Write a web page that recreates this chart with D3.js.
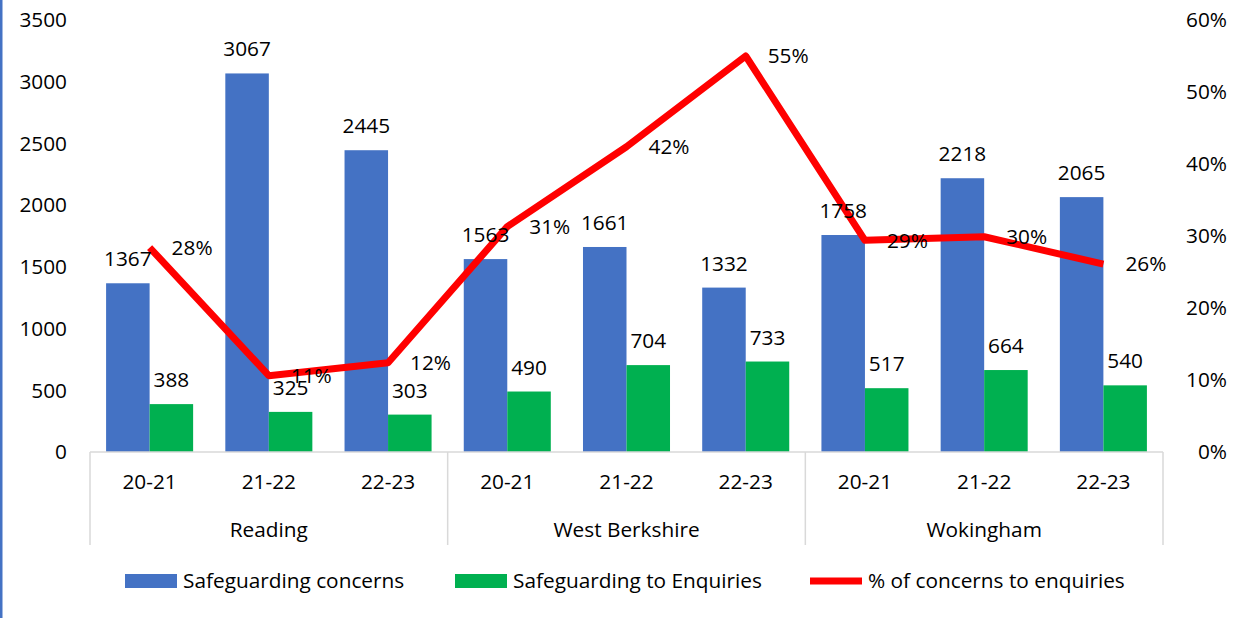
<!DOCTYPE html>
<html lang="en">
<head>
<meta charset="UTF-8">
<title>Safeguarding concerns and enquiries</title>
<script src="https://d3js.org/d3.v7.min.js"></script>
<style>
    body { margin: 0; background: #fff; }
    svg { display: block; font-family: "Open Sans", "Noto Sans", sans-serif; }
    text { fill: #000; }
</style>
</head>
<body>
<svg width="1239" height="618"></svg>
<script>
    // data
    const areas = ["Reading", "West Berkshire", "Wokingham"];
    const years = ["20-21", "21-22", "22-23"];
    const concerns = [1367, 3067, 2445, 1563, 1661, 1332, 1758, 2218, 2065];
    const enquiries = [388, 325, 303, 490, 704, 733, 517, 664, 540];
    const pct = [0.284, 0.106, 0.124, 0.313, 0.424, 0.550, 0.294, 0.299, 0.261];
    const leftTicks = [0, 500, 1000, 1500, 2000, 2500, 3000, 3500];
    const rightTicks = [0, 0.1, 0.2, 0.3, 0.4, 0.5, 0.6];

    const svg = d3.select("svg");
    const plotL = 90, plotR = 1163, plotT = 20, plotB = 452;
    const fs = 20.8;

    // thin blue border at left edge
    svg.append("rect").attr("x", 0).attr("y", 0).attr("width", 2.5).attr("height", 618).attr("fill", "#4472C4");

    const cats = d3.range(concerns.length);
    const x = d3.scaleBand().domain(cats).range([plotL, plotR]).paddingInner(0.27).paddingOuter(0.135);
    const xs = d3.scaleBand().domain(["c", "e"]).range([0, x.bandwidth()]);
    const y = d3.scaleLinear().domain([0, 3500]).range([plotB, plotT]);
    const y2 = d3.scaleLinear().domain([0, 0.6]).range([plotB, plotT]);
    const cx = i => x(i) + x.bandwidth() / 2;

    // left axis labels
    svg.append("g").selectAll("text").data(leftTicks).join("text")
        .attr("x", 67).attr("y", d => y(d)).attr("dy", "0.35em")
        .attr("text-anchor", "end").attr("font-size", fs).text(d => d);

    // right axis labels
    svg.append("g").selectAll("text").data(rightTicks).join("text")
        .attr("x", 1227).attr("y", d => y2(d)).attr("dy", "0.35em")
        .attr("text-anchor", "end").attr("font-size", fs).text(d3.format(".0%"));

    // bars
    svg.append("g").selectAll("rect").data(concerns).join("rect")
        .attr("x", (d, i) => x(i) + xs("c")).attr("width", xs.bandwidth())
        .attr("y", d => y(d)).attr("height", d => plotB - y(d)).attr("fill", "#4472C4");
    svg.append("g").selectAll("rect").data(enquiries).join("rect")
        .attr("x", (d, i) => x(i) + xs("e")).attr("width", xs.bandwidth())
        .attr("y", d => y(d)).attr("height", d => plotB - y(d)).attr("fill", "#00B050");

    // category axis
    const ax = svg.append("g").attr("stroke", "#d9d9d9").attr("stroke-width", 1.5);
    ax.append("line").attr("x1", plotL).attr("x2", plotR).attr("y1", plotB).attr("y2", plotB);
    [0, 3, 6, 9].forEach(k => {
        const xx = k < 9 ? x(k) - x.step() * x.paddingInner() / 2 : plotR;
        ax.append("line").attr("x1", xx).attr("x2", xx).attr("y1", plotB).attr("y2", 545);
    });

    // line
    svg.append("path").datum(pct)
        .attr("fill", "none").attr("stroke", "#FF0000").attr("stroke-width", 7)
        .attr("stroke-linejoin", "round")
        .attr("d", d3.line().x((d, i) => cx(i)).y(d => y2(d)));

    // bar value labels
    svg.append("g").selectAll("text").data(concerns).join("text")
        .attr("x", (d, i) => x(i) + xs("c") + xs.bandwidth() / 2).attr("y", d => y(d) - 17)
        .attr("text-anchor", "middle").attr("font-size", fs).text(d => d);
    svg.append("g").selectAll("text").data(enquiries).join("text")
        .attr("x", (d, i) => x(i) + xs("e") + xs.bandwidth() / 2).attr("y", d => y(d) - 17)
        .attr("text-anchor", "middle").attr("font-size", fs).text(d => d);

    // line labels
    svg.append("g").selectAll("text").data(pct).join("text")
        .attr("x", (d, i) => cx(i) + 22).attr("y", d => y2(d)).attr("dy", "0.35em")
        .attr("font-size", fs).text(d3.format(".0%"));

    // year and area labels
    svg.append("g").selectAll("text").data(cats).join("text")
        .attr("x", i => cx(i)).attr("y", 482).attr("dy", "0.35em")
        .attr("text-anchor", "middle").attr("font-size", fs).text(i => years[i % 3]);
    svg.append("g").selectAll("text").data(areas).join("text")
        .attr("x", (d, i) => cx(i * 3 + 1)).attr("y", 530).attr("dy", "0.35em")
        .attr("text-anchor", "middle").attr("font-size", fs).text(d => d);

    // legend
    const lg = svg.append("g");
    const items = [
        {label: "Safeguarding concerns", color: "#4472C4", type: "bar", x: 125},
        {label: "Safeguarding to Enquiries", color: "#00B050", type: "bar", x: 455},
        {label: "% of concerns to enquiries", color: "#FF0000", type: "line", x: 810}
    ];
    items.forEach(it => {
        if (it.type === "bar") {
            lg.append("rect").attr("x", it.x).attr("y", 574).attr("width", 52).attr("height", 14).attr("fill", it.color);
        } else {
            lg.append("line").attr("x1", it.x).attr("x2", it.x + 52).attr("y1", 581).attr("y2", 581)
                .attr("stroke", it.color).attr("stroke-width", 7);
        }
        lg.append("text").attr("x", it.x + 58).attr("y", 581).attr("dy", "0.35em")
            .attr("font-size", fs).text(it.label);
    });
</script>
</body>
</html>
